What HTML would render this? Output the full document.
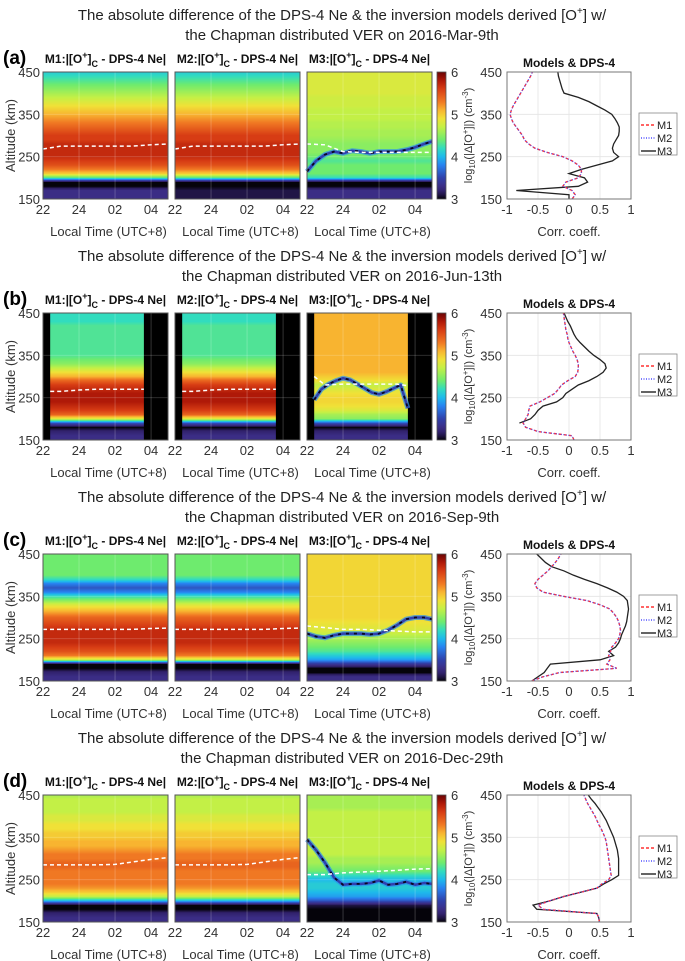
<!DOCTYPE html>
<html><head><meta charset="utf-8"><style>
html,body{margin:0;padding:0;background:#fff;}
svg{display:block;font-family:"Liberation Sans",Arial,sans-serif;}
</style></head><body>
<svg id="fig" width="685" height="961" viewBox="0 0 685 961" xmlns="http://www.w3.org/2000/svg"></svg>
<script>
// ===== DATA =====
const alts = [150,160,170,180,190,200,210,220,230,240,250,260,270,280,290,300,310,320,330,340,350,360,370,380,390,400,410,420,430,440,450];
const heatA1 = [3.3,3.3,3.3,3.0,3.0,4.3,5.0,5.3,5.5,5.6,5.7,5.7,5.7,5.7,5.6,5.6,5.5,5.4,5.3,5.2,5.1,5.0,4.9,4.8,4.7,4.6,4.5,4.4,4.3,4.2,4.1];
const heatA2 = [3.1,3.1,3.1,3.0,3.0,4.3,5.0,5.3,5.5,5.6,5.7,5.7,5.7,5.7,5.6,5.6,5.5,5.4,5.3,5.2,5.1,5.0,4.9,4.8,4.7,4.6,4.5,4.4,4.3,4.2,4.1];
const heatA3 = [3.3,3.3,3.3,3.0,3.0,4.2,4.4,4.4,4.4,4.3,4.4,4.5,4.5,4.5,4.55,4.6,4.6,4.65,4.65,4.7,4.7,4.7,4.75,4.75,4.75,4.8,4.8,4.8,4.8,4.8,4.8];
const heatB1 = [3.3,3.3,3.2,3.0,3.6,4.8,5.4,5.6,5.7,5.8,5.8,5.8,5.7,5.6,5.4,5.1,4.9,4.7,4.5,4.4,4.3,4.3,4.3,4.3,4.3,4.3,4.3,4.3,4.2,4.2,4.2];
const heatB2 = [3.3,3.3,3.2,3.0,3.6,4.8,5.4,5.6,5.7,5.8,5.8,5.8,5.7,5.6,5.4,5.1,4.9,4.7,4.5,4.4,4.3,4.3,4.3,4.3,4.3,4.3,4.3,4.3,4.2,4.2,4.2];
const heatB3 = [3.3,3.3,3.2,3.0,3.6,4.5,4.6,4.8,4.9,4.95,4.95,4.9,4.8,4.7,4.9,5.0,5.1,5.1,5.1,5.1,5.1,5.1,5.1,5.1,5.1,5.1,5.1,5.1,5.1,5.1,5.1];
const heatC1 = [3.3,3.3,3.2,3.0,3.0,4.7,5.3,5.5,5.6,5.7,5.7,5.7,5.7,5.6,5.5,5.4,5.2,5.0,4.8,4.5,4.2,3.8,3.6,3.8,4.2,4.4,4.4,4.4,4.4,4.4,4.4];
const heatC2 = [3.3,3.3,3.2,3.0,3.0,4.7,5.3,5.5,5.6,5.7,5.7,5.7,5.7,5.6,5.5,5.4,5.2,5.0,4.8,4.5,4.2,3.8,3.6,3.8,4.2,4.4,4.4,4.4,4.4,4.4,4.4];
const heatC3 = [3.3,3.3,3.0,3.0,3.4,3.9,4.1,4.3,4.4,4.5,4.6,4.7,4.8,4.85,4.9,4.95,4.95,4.95,4.95,4.95,4.95,4.95,4.95,4.95,4.95,4.95,4.95,4.95,4.95,4.95,4.95];
const heatD1 = [3.3,3.3,3.2,3.0,3.0,4.0,4.7,5.0,5.2,5.3,5.3,5.3,5.3,5.4,5.4,5.3,5.3,5.2,5.1,5.1,5.0,5.0,4.9,4.9,4.8,4.8,4.7,4.7,4.7,4.7,4.6];
const heatD2 = [3.3,3.3,3.2,3.0,3.0,4.0,4.7,5.0,5.2,5.3,5.3,5.3,5.3,5.4,5.4,5.3,5.3,5.2,5.1,5.1,5.0,5.0,4.9,4.9,4.8,4.8,4.7,4.7,4.7,4.7,4.6];
const heatD3 = [3.0,3.0,3.0,3.0,3.1,3.6,3.9,4.0,4.1,4.1,4.0,4.2,4.4,4.5,4.6,4.6,4.7,4.7,4.7,4.7,4.7,4.7,4.7,4.7,4.7,4.7,4.7,4.6,4.6,4.6,4.6];

const dashTimes = [0,1,2,3,4,5,6,6.94];
const dashTimesB = [0.4,1,2,3,4,5,5.6];
const dashA1 = [268,275,275,275,275,275,278,280];
const dashA3 = [280,278,262,260,260,260,260,260];
const dashB1 = [265,265,268,270,270,270,270];
const dashB3 = [300,280,282,282,282,282,278];
const dashC1 = [272,272,272,272,272,272,274,275];
const dashC3 = [280,276,272,272,270,268,266,266];
const dashD1 = [285,285,285,285,286,292,298,302];
const dashD3 = [262,262,266,268,270,272,275,276];

const curveTimes = [0,0.5,1,1.5,2,2.5,3,3.5,4,4.5,5,5.5,6,6.5,6.94];
const curveTimesB = [0.4,0.8,1.2,1.6,2,2.4,2.8,3.2,3.6,4,4.4,4.8,5.2,5.6];
const curveA3 = [215,240,255,262,258,264,262,258,262,262,262,266,272,280,286];
const curveB3 = [245,270,282,290,296,292,282,272,262,258,264,272,280,225];
const curveC3 = [262,255,252,258,262,262,262,260,262,270,282,296,300,300,296];
const curveD3 = [345,320,290,255,238,240,240,242,248,238,240,245,238,242,240];

const corrA1 = [0.05,0.1,0.05,-0.1,-0.05,0.15,0.2,0.2,0.15,0.05,-0.1,-0.35,-0.55,-0.65,-0.72,-0.75,-0.8,-0.85,-0.9,-0.93,-0.95,-0.93,-0.9,-0.86,-0.82,-0.78,-0.74,-0.70,-0.66,-0.62,-0.59];
const corrA3 = [0.0,0.0,-0.85,0.15,0.3,0.25,0.0,0.2,0.45,0.7,0.8,0.72,0.7,0.72,0.76,0.8,0.81,0.81,0.78,0.74,0.69,0.58,0.45,0.32,0.15,-0.08,-0.11,-0.13,-0.15,-0.17,-0.18];
const corrB1 = [0.08,0.05,-0.5,-0.7,-0.74,-0.7,-0.66,-0.65,-0.63,-0.47,-0.35,-0.23,-0.17,-0.12,-0.02,0.1,0.14,0.15,0.15,0.13,0.1,0.06,0.03,0.0,-0.02,-0.03,-0.05,-0.06,-0.07,-0.08,-0.09];
const corrB3 = [null,null,null,null,-0.8,-0.62,-0.55,-0.5,-0.42,-0.2,-0.1,-0.05,0.05,0.15,0.32,0.45,0.55,0.6,0.58,0.5,0.4,0.32,0.25,0.18,0.12,0.08,0.05,0.02,-0.02,-0.05,-0.08];
const corrC1 = [-0.6,-0.42,-0.15,0.77,0.61,0.66,0.64,0.67,0.69,0.75,0.8,0.82,0.83,0.82,0.8,0.77,0.72,0.66,0.5,0.29,-0.09,-0.42,-0.52,-0.55,-0.5,-0.42,-0.34,-0.28,-0.22,-0.17,-0.13];
const corrC3 = [-0.6,-0.5,-0.4,-0.35,-0.3,0.5,0.72,0.64,0.75,0.8,0.83,0.85,0.88,0.91,0.93,0.94,0.95,0.96,0.95,0.94,0.88,0.77,0.62,0.45,0.25,0.07,-0.08,-0.28,-0.38,-0.45,-0.52];
const corrD1 = [0.49,0.48,0.45,-0.42,-0.5,-0.31,-0.09,0.18,0.45,0.53,0.64,0.68,0.67,0.66,0.65,0.64,0.63,0.62,0.61,0.6,0.58,0.55,0.52,0.48,0.45,0.42,0.38,0.34,0.3,0.27,0.24];
const corrD3 = [0.49,0.48,0.45,-0.52,-0.58,-0.31,-0.09,0.18,0.45,0.56,0.69,0.8,0.8,0.8,0.8,0.8,0.79,0.78,0.76,0.74,0.72,0.69,0.66,0.63,0.6,0.56,0.52,0.47,0.42,0.36,0.31];

const altTicks = [150,250,350,450];
const timeTickVals = [0,2,4,6];
const timeTickLabels = ["22","24","02","04"];
const cbTicks = [3,4,5,6];
const corrTicks = [-1,-0.5,0,0.5,1];
const corrTickLabels = ["-1","-0.5","0","0.5","1"];
const panelLetters = ["(a)","(b)","(c)","(d)"];
const panelDates = ["2016-Mar-9th","2016-Jun-13th","2016-Sep-9th","2016-Dec-29th"];

// ===== LAYOUT =====
const NS = "http://www.w3.org/2000/svg";
const svg = document.getElementById('fig');
function mk(tag, attrs, parent){const e=document.createElementNS(NS,tag);for(const k in attrs)e.setAttribute(k,attrs[k]);(parent||svg).appendChild(e);return e;}
const PH = 127, TMAX = 6.94;
const heatX = [43,175,307], HW = 125;
const CBX = 437, CBW = 9;
const RX = 507, RW = 124;

const stops = [[3.0,[5,3,10]],[3.15,[45,30,100]],[3.3,[59,45,133]],[3.5,[48,64,170]],[3.8,[40,130,240]],[4.0,[30,185,235]],[4.2,[50,220,190]],[4.4,[110,235,110]],[4.7,[195,240,70]],[4.9,[240,225,55]],[5.1,[248,180,48]],[5.3,[240,120,35]],[5.6,[215,60,20]],[5.8,[175,25,8]],[6.0,[106,4,4]]];
function cmap(v){if(v<=stops[0][0])return 'rgb('+stops[0][1]+')';for(let i=1;i<stops.length;i++){if(v<=stops[i][0]){const a=stops[i-1],b=stops[i];const f=(v-a[0])/(b[0]-a[0]);const c=a[1].map((x,j)=>Math.round(x+(b[1][j]-x)*f));return 'rgb('+c+')';}}return 'rgb('+stops[stops.length-1][1]+')';}
function interp(arr,alt){const f=(alt-150)/10;const i=Math.max(0,Math.min(arr.length-2,Math.floor(f)));const t=f-i;const a=arr[i],b=arr[i+1];if(a===null||b===null)return null;return a+(b-a)*t;}

const panels = [
 {heats:[heatA1,heatA2,heatA3], range:[0,TMAX], dashT:dashTimes, dash:[dashA1,dashA1,dashA3], cT:curveTimes, curve:curveA3, c1:corrA1, c3:corrA3},
 {heats:[heatB1,heatB2,heatB3], range:[0.4,5.6], dashT:dashTimesB, dash:[dashB1,dashB1,dashB3], cT:curveTimesB, curve:curveB3, c1:corrB1, c3:corrB3},
 {heats:[heatC1,heatC2,heatC3], range:[0,TMAX], dashT:dashTimes, dash:[dashC1,dashC1,dashC3], cT:curveTimes, curve:curveC3, c1:corrC1, c3:corrC3},
 {heats:[heatD1,heatD2,heatD3], range:[0,TMAX], dashT:dashTimes, dash:[dashD1,dashD1,dashD3], cT:curveTimes, curve:curveD3, c1:corrD1, c3:corrD3}
];

const defs = mk('defs',{});
const grad = mk('linearGradient',{id:'cbgrad',x1:0,y1:1,x2:0,y2:0},defs);
for(let k=0;k<=30;k++){const v=3+k*0.1;mk('stop',{offset:(k/30),'stop-color':cmap(v)},grad);}

panels.forEach((p,pi)=>{
  const T = 72 + 241*pi;
  const yA = a => T + (450-a)/300*PH;
  const g = mk('g',{});
  
  
  const t1 = mk('text',{x:342,y:T-52,'font-size':15,'text-anchor':'middle',fill:'#222'},g);
  
  
  t1.innerHTML='The absolute difference of the DPS-4 Ne &amp; the inversion models derived [O<tspan dy="-6" font-size="10">+</tspan><tspan dy="6">] w/</tspan>';
  const t2 = mk('text',{x:342,y:T-32,'font-size':15,'text-anchor':'middle',fill:'#222'},g);
  
  
  t2.textContent='the Chapman distributed VER on '+panelDates[pi];
  const lt = mk('text',{x:3,y:T-8,'font-size':19,'font-weight':'bold',fill:'#000'},g);
  
  
  lt.textContent=panelLetters[pi];
  const yt = mk('text',{x:0,y:0,'font-size':13,'text-anchor':'middle',fill:'#333',transform:'translate(15,'+(T+PH/2)+') rotate(-90)'},g);
  
  
  yt.textContent='Altitude (km)';
  altTicks.forEach(a=>{const tx=mk('text',{x:40,y:yA(a)+5,'font-size':13,'text-anchor':'end',fill:'#333'},g);
    
    
    tx.textContent=a;});
  for(let m=0;m<3;m++){
    const X0=heatX[m];
    const xT = t => X0 + t/TMAX*HW;
    const hg = mk('g',{},g);
    
    
    const st = mk('text',{x:X0+HW/2,y:T-9,'font-size':12,'font-weight':'bold','text-anchor':'middle',fill:'#111'},hg);
    
    
    st.innerHTML='M'+(m+1)+':|[O<tspan dy="-5" font-size="9">+</tspan><tspan dy="5">]</tspan><tspan dy="4" font-size="9">C</tspan><tspan dy="-4"> - DPS-4 Ne|</tspan>';
    mk('rect',{x:X0,y:T,width:HW,height:PH,fill:'#000'},hg);
    const x1=xT(p.range[0]), x2=xT(p.range[1]);
    const arr=p.heats[m];
    for(let r=0;r<PH;r++){
      const alt=450-(r+0.5)/PH*300;
      const cell=mk('rect',{x:x1,y:T+r,width:x2-x1,height:1.2,fill:cmap(interp(arr,alt))},hg);
      
      
    }
    timeTickVals.forEach(t=>mk('line',{x1:xT(t),x2:xT(t),y1:T,y2:T+PH,stroke:'#fff','stroke-opacity':0.25,'stroke-width':0.8},hg));
    altTicks.forEach(a=>mk('line',{x1:X0,x2:X0+HW,y1:yA(a),y2:yA(a),stroke:'#fff','stroke-opacity':0.2,'stroke-width':0.8},hg));
    if(m===2){
      const pts=p.cT.map((t,i)=>xT(t)+','+yA(p.curve[i])).join(' ');
      mk('polyline',{points:pts,fill:'none',stroke:'#2a90f0','stroke-width':5,'stroke-linejoin':'round','stroke-opacity':0.7},hg);
      mk('polyline',{points:pts,fill:'none',stroke:'#3040b0','stroke-width':2.5,'stroke-linejoin':'round'},hg);
      const cl=mk('polyline',{points:pts,fill:'none',stroke:'#0a0820','stroke-width':1.8,'stroke-dasharray':'3 5','stroke-linejoin':'round'},hg);
      
      
    }
    const dp=p.dashT.map((t,i)=>xT(t)+','+yA(p.dash[m][i])).join(' ');
    const dl=mk('polyline',{points:dp,fill:'none',stroke:'#fff','stroke-width':1.5,'stroke-dasharray':'4 3'},hg);
    
    
    mk('rect',{x:X0,y:T,width:HW,height:PH,fill:'none',stroke:'#555','stroke-width':1},hg);
    timeTickVals.forEach((t,i)=>{const tx=mk('text',{x:xT(t),y:T+PH+15,'font-size':13,'text-anchor':'middle',fill:'#333'},hg);
      
      
      tx.textContent=timeTickLabels[i];});
    const xl=mk('text',{x:X0+HW/2+3,y:T+PH+37,'font-size':13,'text-anchor':'middle',fill:'#333'},hg);
    
    
    xl.textContent='Local Time (UTC+8)';
  }
  const cb=mk('rect',{x:CBX,y:T,width:CBW,height:PH,fill:'url(#cbgrad)',stroke:'#555','stroke-width':0.8},g);
  
  
  cbTicks.forEach(v=>{const y=T+PH-(v-3)/3*PH;const tx=mk('text',{x:451,y:y+5,'font-size':13,fill:'#333'},g);
    
    
    tx.textContent=v;});
  const cbl=mk('text',{x:0,y:0,'font-size':11,'text-anchor':'middle',fill:'#333',transform:'translate(472,'+(T+PH/2)+') rotate(-90)'},g);
  
  
  cbl.innerHTML='log<tspan dy="3" font-size="8">10</tspan><tspan dy="-3">(|Δ[O</tspan><tspan dy="-4" font-size="8">+</tspan><tspan dy="4">]|) (cm</tspan><tspan dy="-4" font-size="8">-3</tspan><tspan dy="4">)</tspan>';
  const xC = c => RX + (c+1)/2*RW;
  const rg=mk('g',{},g);
  
  
  mk('rect',{x:RX,y:T,width:RW,height:PH,fill:'#fff'},rg);
  corrTicks.forEach(c=>mk('line',{x1:xC(c),x2:xC(c),y1:T,y2:T+PH,stroke:'#e4e4e4','stroke-width':0.8},rg));
  altTicks.forEach(a=>mk('line',{x1:RX,x2:RX+RW,y1:yA(a),y2:yA(a),stroke:'#e4e4e4','stroke-width':0.8},rg));
  const rt=mk('text',{x:RX+RW/2,y:T-5,'font-size':12,'font-weight':'bold','text-anchor':'middle',fill:'#111'},rg);
  
  
  rt.textContent='Models & DPS-4';
  altTicks.forEach(a=>{const tx=mk('text',{x:RX-5,y:yA(a)+5,'font-size':13,'text-anchor':'end',fill:'#333'},rg);
    
    
    tx.textContent=a;});
  corrTicks.forEach((c,i)=>{const tx=mk('text',{x:xC(c),y:T+PH+15,'font-size':13,'text-anchor':'middle',fill:'#333'},rg);
    
    
    tx.textContent=corrTickLabels[i];});
  const cx=mk('text',{x:RX+RW/2,y:T+PH+37,'font-size':13,'text-anchor':'middle',fill:'#333'},rg);
  
  
  cx.textContent='Corr. coeff.';
  function line(arr,attrs,name){const pts=[];arr.forEach((c,i)=>{if(c!==null)pts.push(xC(c)+','+yA(alts[i]));});const l=mk('polyline',Object.assign({points:pts.join(' '),fill:'none'},attrs),rg);}
  line(p.c3,{stroke:'#222','stroke-width':1.3},'line-m3');
  line(p.c1,{stroke:'#ff3030','stroke-width':1.4,'stroke-dasharray':'3 2'},'line-m1');
  line(p.c1,{stroke:'#5050ff','stroke-width':1,'stroke-dasharray':'1 1.5'},'line-m2');
  mk('rect',{x:RX,y:T,width:RW,height:PH,fill:'none',stroke:'#777','stroke-width':1},rg);
  const lg=mk('g',{},g);
  
  
  mk('rect',{x:639,y:T+41,width:38,height:42,fill:'#fff',stroke:'#888','stroke-width':0.8},lg);
  const entries=[['M1','#ff3030','3 2'],['M2','#5050ff','1 1.5'],['M3','#222','']];
  entries.forEach((e,i)=>{const y=T+53+i*13;
    const ln=mk('line',{x1:641,x2:656,y1:y,y2:y,stroke:e[1],'stroke-width':1.4},lg);
    if(e[2])ln.setAttribute('stroke-dasharray',e[2]);
    const tx=mk('text',{x:657,y:y+4,'font-size':11,fill:'#222'},lg);
    
    
    tx.textContent=e[0];});
});
</script>
</body></html>
